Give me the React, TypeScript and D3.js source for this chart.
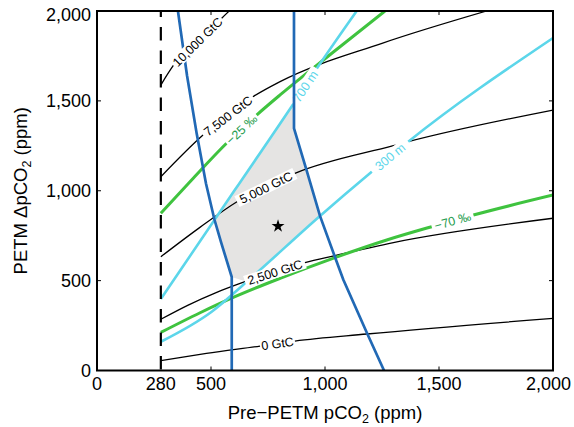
import React from "react";
import * as d3 from "d3";

type P = [number, number];

// ---- axis ticks ----
const xTickValues = [0, 280, 500, 1000, 1500, 2000];
const yTickValues = [0, 500, 1000, 1500, 2000];
const innerTickValues = [500, 1000, 1500];
const preindustrialPCO2 = 280;

// ---- carbon release contours (GtC) ----
const gtc0: P[] = [[280, 55], [480, 95], [715, 136], [868, 164], [1184, 203], [2000, 290]];
const gtc2500: P[] = [[280, 285], [400, 364], [520, 432], [649, 494], [912, 600], [1039, 638], [1300, 712], [2000, 847]];
const gtc5000: P[] = [[280, 633], [450, 795], [614, 939], [868, 1097], [1300, 1251], [1365, 1273], [2000, 1449]];
const gtc7500: P[] = [[280, 1078], [465, 1310], [684, 1523], [803, 1607], [1250, 1820], [1709, 2000]];
const gtc10000: P[] = [[280, 1588], [335, 1697], [440, 1838], [547, 1960], [580, 2000]];

// ---- carbon isotope contours ----
const d13cMinus25: P[] = [[280, 875], [415, 1060], [568, 1264], [700, 1421], [803, 1533], [1030, 1765], [1263, 2000]];
const d13cMinus70: P[] = [[280, 212], [450, 320], [600, 408], [803, 513], [1044, 628], [1271, 726], [1468, 800], [1651, 865], [2000, 976]];

// ---- depth contours ----
const depth700: P[] = [[280, 398], [605, 1005], [861, 1483], [964, 1680], [1139, 2000]];
const depth300: P[] = [[280, 160], [503, 327], [657, 494], [978, 860], [1205, 1106], [1365, 1273], [2000, 1850]];

// ---- constraint boundaries ----
const boundLeft: P[] = [[355, 2000], [395, 1640], [437, 1320], [478, 1040], [515, 840], [545, 710], [591, 520], [591, 0]];
const boundRight: P[] = [[864, 2000], [864, 1347], [920, 1110], [978, 860], [1044, 630], [1080, 506], [1186, 203], [1259, 0]];

// ---- feasible region & best estimate ----
const feasibleRegion: P[] = [[515, 838], [864, 1489], [864, 1347], [978, 860], [657, 494], [591, 520], [545, 710]];
const bestEstimate: P = [794, 803];

// ---- contour labels (data-x range occupied by each label) ----
const contourLabels = [
  { series: "gtc0", text: "0 GtC", from: 715, to: 868 },
  { series: "gtc2500", text: "2,500 GtC", from: 649, to: 912 },
  { series: "gtc5000", text: "5,000 GtC", from: 614, to: 868 },
  { series: "gtc7500", text: "7,500 GtC", from: 465, to: 684 },
  { series: "gtc10000", text: "10,000 GtC", from: 335, to: 547 },
  { series: "d13cMinus25", text: "\u221225 \u2030", from: 568, to: 700 },
  { series: "d13cMinus70", text: "\u221270 \u2030", from: 1468, to: 1651 },
  { series: "depth700", text: "700 m", from: 861, to: 964 },
  { series: "depth300", text: "300 m", from: 1205, to: 1365 },
];

const seriesMap: Record<string, P[]> = { gtc0, gtc2500, gtc5000, gtc7500, gtc10000, d13cMinus25, d13cMinus70, depth700, depth300 };

const BLACK = "#000";
const GREEN = "#3fc33f";
const GREEN_TEXT = "#1f9d4f";
const CYAN = "#5cd6ea";
const BLUE = "#2169b5";
const GRAY = "#e5e4e3";
const FONT = "'Liberation Sans', Arial, Helvetica, sans-serif";

function yAt(pts: P[], xv: number): number {
  for (let i = 0; i < pts.length - 1; i++) {
    const [x0, y0] = pts[i];
    const [x1, y1] = pts[i + 1];
    if (xv >= x0 && xv <= x1) {
      if (x1 === x0) return y0;
      return y0 + ((xv - x0) / (x1 - x0)) * (y1 - y0);
    }
  }
  return pts[pts.length - 1][1];
}

export default function App() {
  const left = 97, right = 553, top = 11, bottom = 370.5;
  const x = d3.scaleLinear().domain([0, 2000]).range([left, right]);
  const y = d3.scaleLinear().domain([0, 2000]).range([bottom, top]);

  const smooth = d3.line<P>().x((d) => x(d[0])).y((d) => y(d[1])).curve(d3.curveMonotoneX);
  const straight = d3.line<P>().x((d) => x(d[0])).y((d) => y(d[1])).curve(d3.curveLinear);

  const colorOf = (s: string) => (s.startsWith("gtc") ? BLACK : s.startsWith("d13c") ? GREEN_TEXT : CYAN);

  const renderLabel = (lab: typeof contourLabels[number]) => {
    const pts = seriesMap[lab.series];
    const p0 = [x(lab.from), y(yAt(pts, lab.from))];
    const p1 = [x(lab.to), y(yAt(pts, lab.to))];
    const mx = (p0[0] + p1[0]) / 2;
    const my = (p0[1] + p1[1]) / 2;
    const ang = (Math.atan2(p1[1] - p0[1], p1[0] - p0[0]) * 180) / Math.PI;
    const len = Math.hypot(p1[0] - p0[0], p1[1] - p0[1]);
    return (
      <g key={lab.text} transform={`translate(${mx},${my}) rotate(${ang})`}>
        <rect x={-len / 2} y={-6} width={len} height={12} fill="#fff" />
        <text textAnchor="middle" dy="0.36em" fontSize={12.5} fill={colorOf(lab.series)} fontFamily={FONT}>
          {lab.text}
        </text>
      </g>
    );
  };

  const star = d3.symbol().type(d3.symbolStar).size(52)();

  return (
    <svg width={574} height={427} style={{ position: "fixed", left: 0, top: 0, background: "#fff" }} fontFamily={FONT}>
      <defs>
        <clipPath id="plotClip">
          <rect x={left} y={top} width={right - left} height={bottom - top} />
        </clipPath>
      </defs>
      <g clipPath="url(#plotClip)">
        <path d={straight(feasibleRegion) + "Z"} fill={GRAY} stroke="none" />
        {[gtc0, gtc2500, gtc5000, gtc7500, gtc10000].map((s, i) => (
          <path key={"k" + i} d={smooth(s) || ""} fill="none" stroke={BLACK} strokeWidth={1.3} />
        ))}
        {[d13cMinus25, d13cMinus70].map((s, i) => (
          <path key={"g" + i} d={smooth(s) || ""} fill="none" stroke={GREEN} strokeWidth={3} />
        ))}
        {[depth700, depth300].map((s, i) => (
          <path key={"c" + i} d={smooth(s) || ""} fill="none" stroke={CYAN} strokeWidth={2.6} />
        ))}
        {contourLabels.filter((l) => l.series === "depth700").map(renderLabel)}
        {[boundLeft, boundRight].map((s, i) => (
          <path key={"b" + i} d={straight(s) || ""} fill="none" stroke={BLUE} strokeWidth={2.7} />
        ))}
        {contourLabels.filter((l) => l.series !== "depth700").map(renderLabel)}
        <line
          x1={x(preindustrialPCO2)}
          x2={x(preindustrialPCO2)}
          y1={y(2000)}
          y2={y(0)}
          stroke={BLACK}
          strokeWidth={2.2}
          strokeDasharray="13.5,10"
          strokeDashoffset={7.5}
        />
        <path d={star || ""} transform={`translate(${x(bestEstimate[0])},${y(bestEstimate[1])})`} fill={BLACK} />
      </g>

      {/* ticks */}
      {innerTickValues.map((t) => (
        <g key={"t" + t} stroke={BLACK} strokeWidth={1}>
          <line x1={x(t)} x2={x(t)} y1={bottom} y2={bottom - 4} />
          <line x1={x(t)} x2={x(t)} y1={top} y2={top + 4} />
          <line x1={left} x2={left + 4} y1={y(t)} y2={y(t)} />
          <line x1={right} x2={right - 4} y1={y(t)} y2={y(t)} />
        </g>
      ))}
      <rect x={left} y={top} width={right - left} height={bottom - top} fill="none" stroke={BLACK} strokeWidth={2} />

      {/* tick labels */}
      {xTickValues.map((t, i) => {
        const last = i === xTickValues.length - 1;
        return (
          <text
            key={"xl" + t}
            x={last ? 571 : x(t)}
            y={390}
            textAnchor={last ? "end" : "middle"}
            fontSize={18}
            fill={BLACK}
          >
            {d3.format(",")(t)}
          </text>
        );
      })}
      {yTickValues.map((t, i) => {
        const last = i === yTickValues.length - 1;
        return (
          <text key={"yl" + t} x={91} y={y(t) + (last ? 3.5 : 0)} dy="0.35em" textAnchor="end" fontSize={18} fill={BLACK}>
            {d3.format(",")(t)}
          </text>
        );
      })}

      {/* axis titles */}
      <text x={(left + right) / 2} y={419} textAnchor="middle" fontSize={18.5} fill={BLACK}>
        Pre{"\u2212"}PETM pCO
        <tspan fontSize={12.5} dy={4}>2</tspan>
        <tspan dy={-4}> (ppm)</tspan>
      </text>
      <text
        transform={`translate(26.5,${(top + bottom) / 2}) rotate(-90)`}
        textAnchor="middle"
        fontSize={18.5}
        fill={BLACK}
      >
        PETM {"\u0394"}pCO
        <tspan fontSize={12.5} dy={4}>2</tspan>
        <tspan dy={-4}> (ppm)</tspan>
      </text>
    </svg>
  );
}
